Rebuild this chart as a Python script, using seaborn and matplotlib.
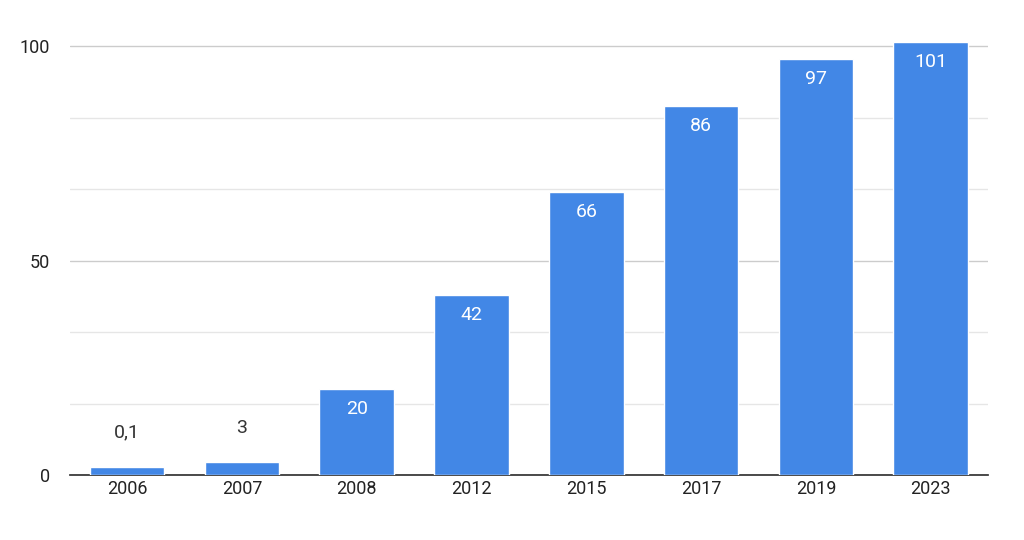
import matplotlib
matplotlib.use("Agg")
import matplotlib.pyplot as plt
import seaborn as sns
import pandas as pd
import numpy as np

years = ["2006", "2007", "2008", "2012", "2015", "2017", "2019", "2023"]
heights = [1.8, 3, 20, 42, 66, 86, 97, 101]
labels = ["0,1", "3", "20", "42", "66", "86", "97", "101"]

sns.set_theme(style="white")
plt.rcParams['font.family'] = ['Roboto', 'DejaVu Sans']
fig = plt.figure(figsize=(10.24, 5.4), dpi=100)
ax = fig.add_axes([0.068, 0.12, 0.897, 0.834])
df = pd.DataFrame({"year": years, "v": heights})
sns.barplot(data=df, x="year", y="v", color="#4287e6", saturation=1, width=0.65, ax=ax, zorder=3)
ax.set_ylim(0, 105)
ax.set_yticks([0, 50, 100])
ax.set_yticks(np.arange(0, 101, 100/6), minor=True)
ax.grid(axis="y", which="major", color="#cccccc", lw=1, zorder=0)
ax.grid(axis="y", which="minor", color="#e6e6e6", lw=1, zorder=0)
for s in ["top", "right", "left"]:
    ax.spines[s].set_visible(False)
ax.spines["bottom"].set_color("#333333")
ax.tick_params(axis="both", which="both", length=0, labelsize=13, colors="#222222")
ax.tick_params(axis="y", pad=14)
ax.set_xlabel(""); ax.set_ylabel("")
for i, (h, l) in enumerate(zip(heights, labels)):
    if h >= 15:
        ax.text(i, h - 2.5, l, ha="center", va="top", color="white", fontsize=14, zorder=4)
    else:
        ax.text(i, h + 6, l, ha="center", va="bottom", color="#333333", fontsize=14, zorder=4)
fig.savefig("out.png", dpi=100)
